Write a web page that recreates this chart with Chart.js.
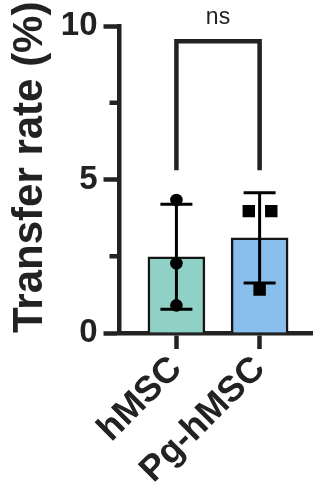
<!DOCTYPE html>
<html>
<head>
<meta charset="utf-8">
<script src="https://cdn.jsdelivr.net/npm/chart.js@4"></script>
<style>
  html, body { margin: 0; padding: 0; background: #fff; }
  canvas { display: block; }
</style>
</head>
<body>
<canvas id="chart" width="321" height="497"></canvas>
<script>
// groups and values
var groups = ['hMSC', 'Pg-hMSC'];
var means = [2.48, 3.10];
var sds = [1.71, 1.47];
var hmscPoints = [4.33, 2.27, 0.90];
var pgPoints = [3.97, 3.97, 1.42];
var pgJitter = [-0.13, 0.14, 0]; // horizontal scatter of the squares
var yTicks = [0, 5, 10];
var yMinor = [2.5, 7.5];

var ink = '#222';

var extras = {
  id: 'extras',
  afterDatasetsDraw: function (chart) {
    var ctx = chart.ctx, x = chart.scales.x, y = chart.scales.y;
    ctx.save();
    // error bars (mean +/- SD)
    ctx.strokeStyle = '#000';
    ctx.lineWidth = 3;
    means.forEach(function (m, i) {
      var px = x.getPixelForValue(i + 1);
      var top = y.getPixelForValue(m + sds[i]);
      var bot = y.getPixelForValue(m - sds[i]);
      ctx.beginPath();
      ctx.moveTo(px, top); ctx.lineTo(px, bot);
      ctx.moveTo(px - 16, top); ctx.lineTo(px + 16, top);
      ctx.moveTo(px - 16, bot); ctx.lineTo(px + 16, bot);
      ctx.stroke();
    });
    // minor y ticks
    ctx.strokeStyle = ink;
    ctx.lineWidth = 4.5;
    yMinor.forEach(function (v) {
      var py = y.getPixelForValue(v);
      ctx.beginPath();
      ctx.moveTo(chart.chartArea.left - 10, py);
      ctx.lineTo(chart.chartArea.left, py);
      ctx.stroke();
    });
    // significance bracket
    var x1 = x.getPixelForValue(1), x2 = x.getPixelForValue(2);
    var yTop = y.getPixelForValue(9.5), yBot = y.getPixelForValue(5.3);
    ctx.lineWidth = 4.5;
    ctx.lineJoin = 'miter';
    ctx.beginPath();
    ctx.moveTo(x1, yBot); ctx.lineTo(x1, yTop); ctx.lineTo(x2, yTop); ctx.lineTo(x2, yBot);
    ctx.stroke();
    ctx.fillStyle = ink;
    ctx.font = '23px "Liberation Sans", Arial, sans-serif';
    ctx.textAlign = 'center';
    ctx.textBaseline = 'alphabetic';
    ctx.fillText('ns', (x1 + x2) / 2, yTop - 17);
    ctx.restore();
  }
};

new Chart(document.getElementById('chart'), {
  type: 'bar',
  data: {
    datasets: [{
      type: 'bar',
      order: 2,
      data: means.map(function (m, i) { return { x: i + 1, y: m }; }),
      backgroundColor: ['#8fd1c6', '#88bfec'],
      borderColor: '#151515',
      borderWidth: 2.5,
      borderSkipped: 'start',
      barThickness: 57
    }, {
      type: 'scatter',
      order: 1,
      data: hmscPoints.map(function (v) { return { x: 1, y: v }; }),
      pointStyle: 'circle',
      pointRadius: 6.3,
      backgroundColor: '#000',
      borderWidth: 0
    }, {
      type: 'scatter',
      order: 1,
      data: pgPoints.map(function (v, i) { return { x: 2 + pgJitter[i], y: v }; }),
      pointStyle: 'rect',
      pointRadius: 8.8,
      backgroundColor: '#000',
      borderWidth: 0
    }]
  },
  options: {
    responsive: false,
    animation: false,
    layout: { padding: { top: 26, right: 0, left: 0, bottom: 0 } },
    plugins: { legend: { display: false }, tooltip: { enabled: false } },
    scales: {
      x: {
        type: 'linear',
        min: 0.316,
        max: 2.632,
        offset: false,
        z: 1,
        afterBuildTicks: function (s) {
          s.ticks = groups.map(function (g, i) { return { value: i + 1 }; });
        },
        afterFit: function (s) {
          s.height = 164;
          s.paddingLeft = 0; s.paddingRight = 0;
        },
        grid: { drawOnChartArea: false, offset: false, tickLength: 16, tickWidth: 4.5, tickColor: ink },
        border: { display: true, width: 4.5, color: ink },
        ticks: {
          autoSkip: false,
          minRotation: 45,
          maxRotation: 45,
          padding: -1,
          color: ink,
          font: { family: '"Liberation Sans", Arial, sans-serif', size: 36, weight: 'bold' },
          callback: function (v) { return groups[v - 1]; }
        }
      },
      y: {
        min: 0,
        max: 10,
        z: 1,
        afterBuildTicks: function (s) {
          s.ticks = yTicks.map(function (v) { return { value: v }; });
        },
        afterFit: function (s) {
          s.width = 119.5;
          s.paddingTop = 0; s.paddingBottom = 0;
        },
        grid: { drawOnChartArea: false, tickLength: 16, tickWidth: 4.5, tickColor: ink },
        border: { display: true, width: 4.5, color: ink },
        ticks: {
          padding: 6,
          color: ink,
          font: { family: '"Liberation Sans", Arial, sans-serif', size: 33, weight: 'bold' }
        },
        title: {
          display: true,
          text: 'Transfer rate (%)',
          align: 'start',
          color: ink,
          padding: { top: 5, bottom: 0 },
          font: { family: '"Liberation Sans", Arial, sans-serif', size: 42, weight: 'bold' }
        }
      }
    }
  },
  plugins: [extras]
});
</script>
</body>
</html>
